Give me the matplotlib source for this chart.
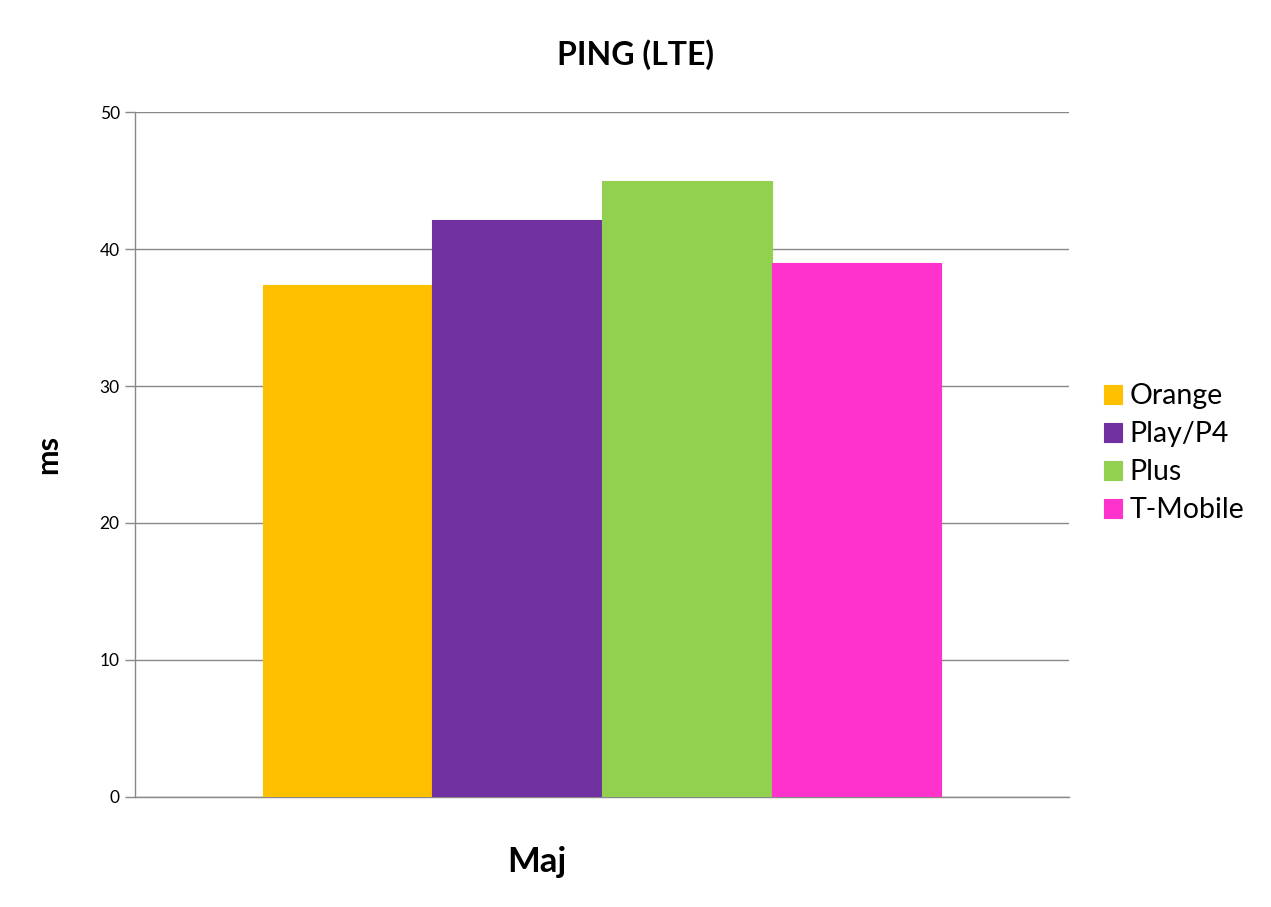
import matplotlib
matplotlib.use("Agg")
import matplotlib.pyplot as plt
import numpy as np

categories = ["Maj"]
series = ["Orange", "Play/P4", "Plus", "T-Mobile"]
values = [37.4, 42.1, 45.0, 39.0]
colors = ["#FFC000", "#7030A0", "#92D050", "#FF33CC"]
yticks = [0, 10, 20, 30, 40, 50]

plt.rcParams['font.family'] = ['Lato', 'DejaVu Sans']

fig = plt.figure(figsize=(12.71, 9.07), dpi=100)
ax = fig.add_axes([0.1062, 0.1213, 0.8411 - 0.1062, 0.8765 - 0.1213])

n = len(series)
bw = 0.1815
for i, (s, v, c) in enumerate(zip(series, values, colors)):
    x = 0 + (i - (n - 1) / 2) * bw
    ax.bar(x, v, width=bw, color=c, label=s, edgecolor=c, linewidth=0.8, zorder=3)

ax.set_xlim(-0.5, 0.5)
ax.set_ylim(0, 50)
ax.set_yticks(yticks)
ax.set_yticklabels([str(t) for t in yticks], fontsize=12.5)
ax.set_xticks([])
ax.yaxis.grid(True, color="#888888", linewidth=1, zorder=0)
for sp in ["top", "right"]:
    ax.spines[sp].set_visible(False)
for sp in ["left", "bottom"]:
    ax.spines[sp].set_color("#888888")
    ax.spines[sp].set_linewidth(1)
ax.tick_params(axis="y", length=7, color="#888888", width=1, pad=4)

fig.text(0.5, 1 - 55 / 907, "PING (LTE)", fontsize=23, fontweight="bold",
         ha="center", va="center")
ax.set_ylabel("ms", fontsize=22, fontweight="bold")
ax.yaxis.set_label_coords((48 - 135) / 934, 0.5)
ax.set_xlabel("Maj", fontsize=25, fontweight="bold")
ax.xaxis.set_label_coords((537 - 135) / 934, -(862 - 797) / 685)
ax.xaxis.label.set_va("center")
ax.yaxis.label.set_va("center")

leg = ax.legend(loc="center left", bbox_to_anchor=(1.0252, 0.5017), frameon=False,
                fontsize=20.5, handlelength=0.65, handleheight=0.65,
                handletextpad=0.25, labelspacing=0.42, borderaxespad=0)

fig.savefig("out.png", dpi=100)
